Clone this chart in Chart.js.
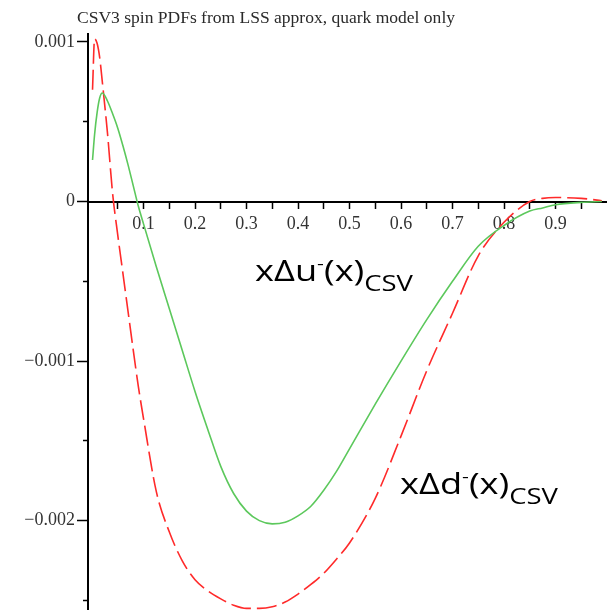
<!DOCTYPE html>
<html>
<head>
<meta charset="utf-8">
<script src="https://cdn.jsdelivr.net/npm/chart.js@4.4.1/dist/chart.umd.min.js"></script>
<style>
  html, body { margin: 0; padding: 0; background: #fff; }
  #wrap { width: 607px; height: 610px; }
</style>
</head>
<body>
<div id="wrap"><canvas id="grafico" width="607" height="610"></canvas></div>
<script>
// valores
var xs = [0.001, 0.005, 0.01, 0.015, 0.02, 0.03, 0.04, 0.05, 0.06, 0.07, 0.08, 0.09, 0.1,
          0.125, 0.15, 0.175, 0.2, 0.225, 0.25, 0.275, 0.3, 0.325, 0.35, 0.375, 0.4,
          0.425, 0.45, 0.475, 0.5, 0.55, 0.6, 0.65, 0.7, 0.75, 0.8, 0.85, 0.875, 0.9, 0.95, 0.99];

var uCsv = [0.00026, 0.00042, 0.00056, 0.00065, 0.00068, 0.00063, 0.00055, 0.00046, 0.00035, 0.00023, 0.0001, -0.00003, -0.00014,
            -0.00041, -0.00067, -0.00093, -0.00119, -0.00143, -0.00166, -0.00183, -0.00194, -0.002, -0.00202, -0.00201, -0.00197,
            -0.00191, -0.00181, -0.00169, -0.00155, -0.00127, -0.00100, -0.00074, -0.00050, -0.00028, -0.00015, -0.00006, -0.00004, -0.00002, -0.000005, 0];

var dCsv = [0.0007, 0.00102, 0.00099, 0.0009, 0.00075, 0.00043, 0.00005, -0.00021, -0.00045, -0.00069, -0.00093, -0.00116, -0.00136,
            -0.00182, -0.00207, -0.00225, -0.00237, -0.00244, -0.00249, -0.00253, -0.00255, -0.00255, -0.00254, -0.00251, -0.00246,
            -0.0024, -0.00233, -0.00224, -0.00214, -0.00186, -0.00147, -0.00106, -0.0007, -0.00034, -0.00013, 0, 0.00002, 0.000025, 0.00002, 0.000005];

var xTickValues = [0.1, 0.2, 0.3, 0.4, 0.5, 0.6, 0.7, 0.8, 0.9];
var yTickValues = [0.001, 0, -0.001, -0.002];
var yTickLabels = ['0.001', '0', '\u22120.001', '\u22120.002'];

var titulo = 'CSV3 spin PDFs from LSS approx, quark model only';

function esMultiplo(v, paso) {
    return Math.abs(v / paso - Math.round(v / paso)) < 1e-6;
}
function buscar(lista, v) {
    for (var i = 0; i < lista.length; i++) {
        if (Math.abs(lista[i] - v) < 1e-9) return i;
    }
    return -1;
}

// textos: titulo y etiquetas de las curvas
var textos = {
    id: 'textos',
    afterDraw: function (chart) {
        var c = chart.ctx;
        c.save();
        c.fillStyle = '#2a2a2a';
        c.textBaseline = 'alphabetic';
        c.font = '16px "Liberation Serif"';
        var w = c.measureText(titulo).width;
        c.translate(77, 23);
        c.scale(378 / w, 1);
        c.fillText(titulo, 0, 0);
        c.restore();

        etiqueta(c, 255, 281, 158, 'u');
        etiqueta(c, 400, 494, 158, 'd');
    }
};

function etiqueta(c, x, base, ancho, q) {
    var partes = [
        { t: 'x\u0394' + q, f: '29px "Open Sans"', dy: 0 },
        { t: '-', f: '17px "Open Sans"', dy: -12 },
        { t: '(x)', f: '29px "Open Sans"', dy: 0 },
        { t: 'CSV', f: '22px "Open Sans"', dy: 10 }
    ];
    c.save();
    var total = 0;
    partes.forEach(function (p) { c.font = p.f; p.w = c.measureText(p.t).width; total += p.w; });
    c.translate(x, base);
    c.scale(ancho / total, 1);
    c.fillStyle = '#000';
    c.textBaseline = 'alphabetic';
    var px = 0;
    partes.forEach(function (p) { c.font = p.f; c.fillText(p.t, px, p.dy); px += p.w; });
    c.restore();
}

var ctx = document.getElementById('grafico').getContext('2d');
var grafico = new Chart(ctx, {
    type: 'line',
    data: {
        datasets: [{
            label: 'xDu-(x)CSV',
            data: xs.map(function (x, i) { return { x: x, y: uCsv[i] }; }),
            borderColor: '#5cc85c',
            borderWidth: 1.6,
            fill: false,
            cubicInterpolationMode: 'monotone'
        }, {
            label: 'xDd-(x)CSV',
            data: xs.map(function (x, i) { return { x: x, y: dCsv[i] }; }),
            borderColor: '#ff2a2a',
            borderWidth: 1.6,
            borderDash: [20, 6],
            fill: false,
            cubicInterpolationMode: 'monotone'
        }]
    },
    options: {
        responsive: false,
        animation: false,
        layout: { padding: { top: 34, left: 0, right: 0, bottom: 0 } },
        elements: { point: { radius: 0 } },
        plugins: {
            legend: { display: false },
            tooltip: { enabled: false },
            title: { display: false }
        },
        scales: {
            x: {
                type: 'linear',
                min: -0.0078,
                max: 1.0,
                position: { y: 0 },
                afterFit: function (s) { s.paddingLeft = 0; s.paddingRight = 0; },
                border: { color: '#000', width: 2 },
                grid: {
                    drawOnChartArea: false,
                    tickLength: 6,
                    tickWidth: 1.5,
                    tickColor: function (c) {
                        var v = c.tick ? c.tick.value : 0;
                        return (v > 0.01 && v < 0.97 && esMultiplo(v, 0.05)) ? '#000' : 'rgba(0,0,0,0)';
                    }
                },
                ticks: {
                    stepSize: 0.05,
                    includeBounds: false,
                    autoSkip: false,
                    maxRotation: 0,
                    padding: 6,
                    color: '#333',
                    font: { family: 'Liberation Serif', size: 18 },
                    callback: function (v) {
                        return buscar(xTickValues, v) >= 0 ? v.toFixed(1) : '';
                    }
                }
            },
            y: {
                min: -0.00256,
                max: 0.00105,
                afterFit: function (s) { s.width = 88; s.paddingTop = 0; s.paddingBottom = 0; },
                border: { color: '#000', width: 2 },
                grid: {
                    drawOnChartArea: false,
                    tickLength: 11,
                    tickWidth: 1.5,
                    tickColor: function (c) {
                        var v = c.tick ? c.tick.value : 1;
                        return esMultiplo(v, 0.0005) ? '#000' : 'rgba(0,0,0,0)';
                    },
                    tickBorderDash: function (c) {
                        var v = c.tick ? c.tick.value : 1;
                        return buscar(yTickValues, v) >= 0 ? [] : [0, 6, 12, 100];
                    }
                },
                ticks: {
                    stepSize: 0.0005,
                    includeBounds: false,
                    autoSkip: false,
                    padding: 2,
                    color: '#333',
                    font: { family: 'Liberation Serif', size: 18 },
                    callback: function (v) {
                        var i = buscar(yTickValues, v);
                        return i >= 0 ? yTickLabels[i] : '';
                    }
                }
            }
        }
    },
    plugins: [textos]
});
</script>
</body>
</html>
